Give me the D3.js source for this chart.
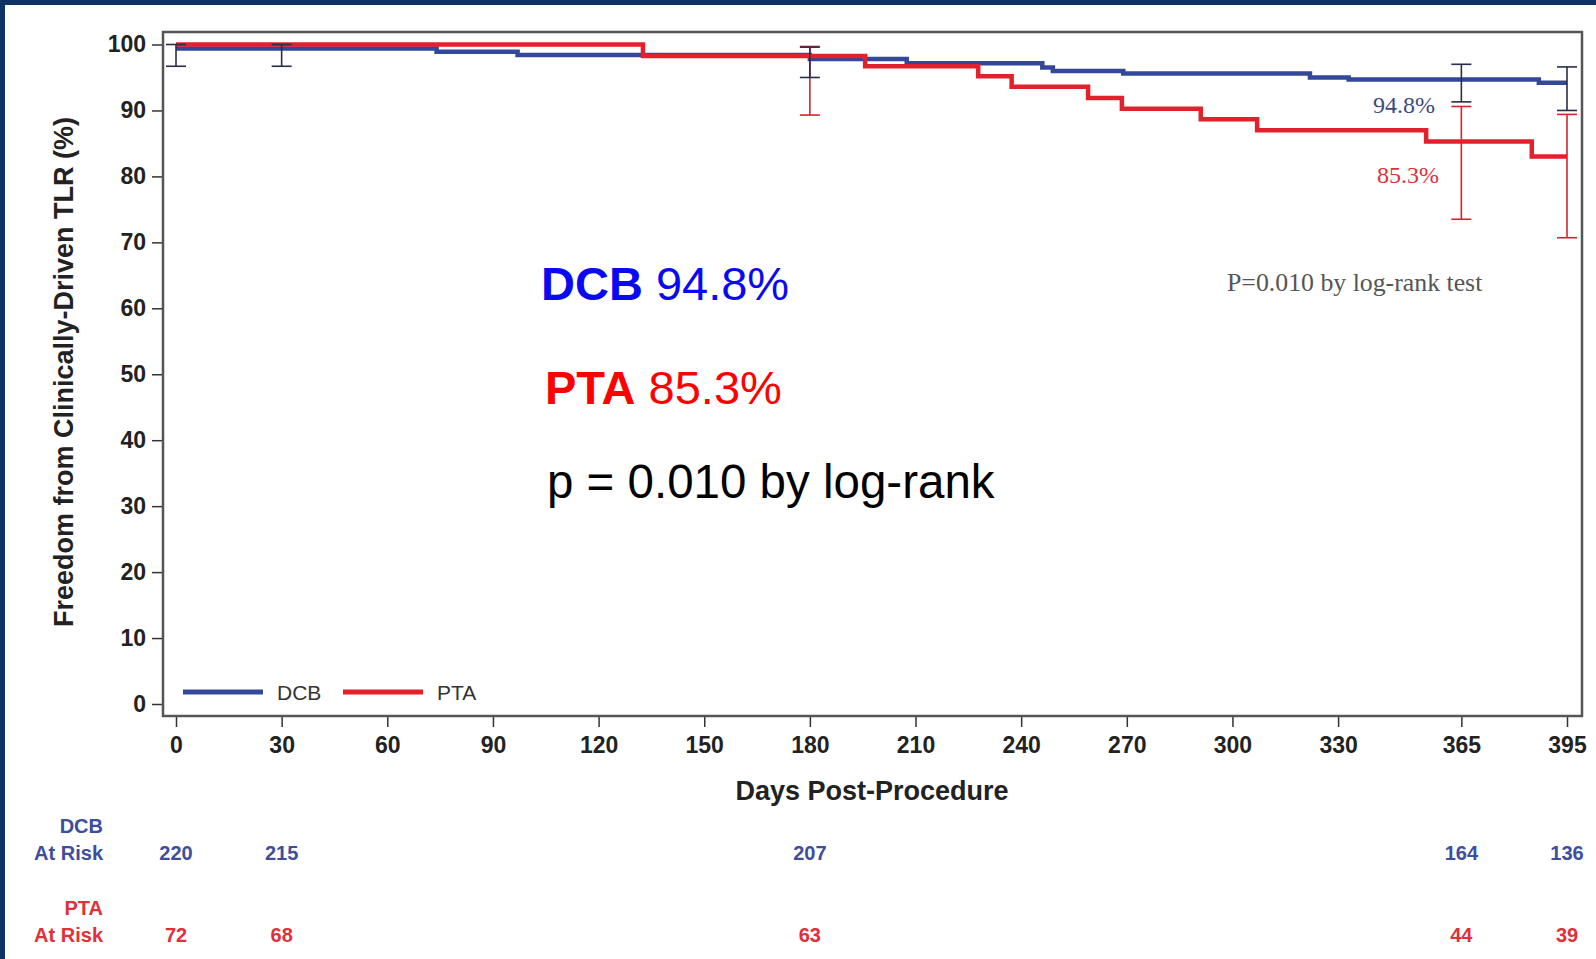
<!DOCTYPE html>
<html>
<head>
<meta charset="utf-8">
<title>Freedom from CD-TLR</title>
<script src="https://cdn.jsdelivr.net/npm/d3@7"></script>
<style>
  body { margin: 0; background: #0d3263; }
  svg { display: block; font-family: "Liberation Sans", Arial, sans-serif; }
  .serif { font-family: "Liberation Serif", "Times New Roman", serif; }
</style>
</head>
<body>
<div id="chart"></div>
<script>
// Kaplan-Meier steps (day, % free from CD-TLR)
var dcbDays = [0, 74, 97, 180, 207.5, 246, 249, 269, 322, 333, 387, 395];
var dcbSurv = [99.4, 98.9, 98.4, 97.8, 97.15, 96.5, 96.0, 95.6, 95.0, 94.7, 94.2, 94.2];
var ptaDays = [0, 132.6, 195.7, 227.8, 237.3, 259, 268.6, 291, 307, 355, 385, 395];
var ptaSurv = [100, 98.25, 96.7, 95.2, 93.6, 91.9, 90.25, 88.65, 87.0, 85.3, 83.0, 83.0];

// confidence intervals
var dcbCIDays = [0, 30, 180, 365, 395];
var dcbLower = [96.7, 96.7, 95.0, 91.3, 90.0];
var dcbUpper = [100, 100, 99.6, 97.0, 96.6];
var ptaCIDays = [180, 365, 395];
var ptaLower = [89.3, 73.5, 70.7];
var ptaUpper = [99.7, 90.6, 89.4];

// numbers at risk
var riskDays = [0, 30, 180, 365, 395];
var dcbRisk = [220, 215, 207, 164, 136];
var ptaRisk = [72, 68, 63, 44, 39];

var xTicks = [0, 30, 60, 90, 120, 150, 180, 210, 240, 270, 300, 330, 365, 395];
var yTicks = [0, 10, 20, 30, 40, 50, 60, 70, 80, 90, 100];

var blue = "#34489a", red = "#e3212d";

var W = 1596, H = 959;
var svg = d3.select("#chart").append("svg")
    .attr("width", W).attr("height", H);

// white slide panel
svg.append("rect").attr("x", 5).attr("y", 5)
    .attr("width", W - 5).attr("height", H - 5).attr("fill", "#fff");

var x = d3.scaleLinear().domain([0, 395]).range([176, 1567]);
var y = d3.scaleLinear().domain([0, 100]).range([704, 44.5]);

var frame = {left: 163, right: 1582, top: 32, bottom: 716};

// y axis
var yAxis = svg.append("g")
    .attr("transform", "translate(" + frame.left + ",0)")
    .call(d3.axisLeft(y).tickValues(yTicks).tickSize(11).tickPadding(6));
yAxis.select(".domain").remove();
yAxis.selectAll("line").attr("stroke", "#333").attr("stroke-width", 1.5);
yAxis.selectAll("text").style("font-size", "23px").style("font-weight", "bold")
    .style("font-family", "'Liberation Sans', Arial, sans-serif").attr("fill", "#222");

// x axis
var xAxis = svg.append("g")
    .attr("transform", "translate(0," + frame.bottom + ")")
    .call(d3.axisBottom(x).tickValues(xTicks).tickSize(11).tickPadding(10));
xAxis.select(".domain").remove();
xAxis.selectAll("line").attr("stroke", "#333").attr("stroke-width", 1.5);
xAxis.selectAll("text").style("font-size", "23px").style("font-weight", "bold")
    .style("font-family", "'Liberation Sans', Arial, sans-serif").attr("fill", "#222");

// frame
svg.append("rect")
    .attr("x", frame.left).attr("y", frame.top)
    .attr("width", frame.right - frame.left).attr("height", frame.bottom - frame.top)
    .attr("fill", "none").attr("stroke", "#555").attr("stroke-width", 2.5);

// axis titles
svg.append("text")
    .attr("transform", "translate(64,372) rotate(-90)")
    .attr("text-anchor", "middle").attr("dominant-baseline", "central")
    .attr("font-size", 27).attr("font-weight", "bold").attr("fill", "#222")
    .text("Freedom from Clinically-Driven TLR (%)");
svg.append("text")
    .attr("x", 872).attr("y", 800)
    .attr("text-anchor", "middle")
    .attr("font-size", 27).attr("font-weight", "bold").attr("fill", "#222")
    .text("Days Post-Procedure");

// error bars
function errorBars(days, lo, hi, color) {
  var g = svg.append("g").attr("stroke", color).attr("stroke-width", 1.6);
  days.forEach(function(d, i) {
    g.append("line").attr("x1", x(d)).attr("x2", x(d)).attr("y1", y(hi[i])).attr("y2", y(lo[i]));
    [lo[i], hi[i]].forEach(function(v) {
      g.append("line").attr("x1", x(d) - 10).attr("x2", x(d) + 10).attr("y1", y(v)).attr("y2", y(v));
    });
  });
}

// step curves
function stepLine(days, surv, color) {
  var pts = days.map(function(d, i) { return [d, surv[i]]; });
  svg.append("path")
      .attr("d", d3.line().curve(d3.curveStepAfter)
          .x(function(p) { return x(p[0]); })
          .y(function(p) { return y(p[1]); })(pts))
      .attr("fill", "none").attr("stroke", color).attr("stroke-width", 4.5);
}

errorBars(ptaCIDays, ptaLower, ptaUpper, "#d4242f");
stepLine(dcbDays, dcbSurv, blue);
stepLine(ptaDays, ptaSurv, red);
errorBars(dcbCIDays, dcbLower, dcbUpper, "#2a2d4a");

// small serif annotations inside the plot
svg.append("text").attr("class", "serif").attr("x", 1373).attr("y", 113)
    .attr("font-size", 24).attr("fill", "#3d4a7e").text("94.8%");
svg.append("text").attr("class", "serif").attr("x", 1377).attr("y", 183)
    .attr("font-size", 24).attr("fill", "#e0303a").text("85.3%");
svg.append("text").attr("class", "serif").attr("x", 1227).attr("y", 291)
    .attr("font-size", 25.8).attr("fill", "#555").text("P=0.010 by log-rank test");

// big overlay annotations
var t1 = svg.append("text").attr("x", 541).attr("y", 300).attr("font-size", 47);
t1.append("tspan").attr("font-weight", "bold").attr("fill", "#0a0af2").text("DCB");
t1.append("tspan").attr("fill", "#0a0af2").text(" 94.8%");
var t2 = svg.append("text").attr("x", 545).attr("y", 404).attr("font-size", 47);
t2.append("tspan").attr("font-weight", "bold").attr("fill", "#ff0000").text("PTA");
t2.append("tspan").attr("fill", "#ff0000").text(" 85.3%");
svg.append("text").attr("x", 547).attr("y", 498).attr("font-size", 47.5)
    .attr("fill", "#000").text("p = 0.010 by log-rank");

// legend
var legend = [{name: "DCB", color: blue, x0: 183}, {name: "PTA", color: red, x0: 343}];
legend.forEach(function(l) {
  svg.append("line").attr("x1", l.x0).attr("x2", l.x0 + 80)
      .attr("y1", 692).attr("y2", 692)
      .attr("stroke", l.color).attr("stroke-width", 5);
  svg.append("text").attr("x", l.x0 + 94).attr("y", 692)
      .attr("dominant-baseline", "central")
      .attr("font-size", 21).attr("fill", "#333").text(l.name);
});

// at-risk table
function riskRow(label, counts, color, yTop) {
  svg.append("text").attr("x", 103).attr("y", yTop).attr("text-anchor", "end")
      .attr("font-size", 20).attr("font-weight", "bold").attr("fill", color).text(label);
  svg.append("text").attr("x", 103).attr("y", yTop + 27).attr("text-anchor", "end")
      .attr("font-size", 20).attr("font-weight", "bold").attr("fill", color).text("At Risk");
  svg.selectAll(null).data(counts).enter().append("text")
      .attr("x", function(d, i) { return x(riskDays[i]); })
      .attr("y", yTop + 27)
      .attr("text-anchor", "middle")
      .attr("font-size", 20).attr("font-weight", "bold").attr("fill", color)
      .text(function(d) { return d; });
}
riskRow("DCB", dcbRisk, "#3c4e9c", 833);
riskRow("PTA", ptaRisk, "#e0303a", 915);
</script>
</body>
</html>
